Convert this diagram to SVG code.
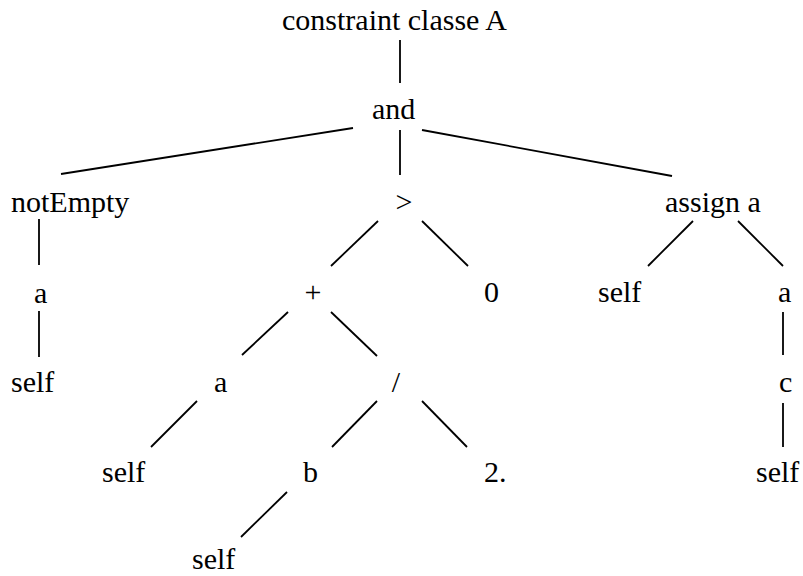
<svg xmlns="http://www.w3.org/2000/svg" width="803" height="576" viewBox="0 0 803 576">
<style>
text{font-family:"Liberation Serif","Times New Roman",serif;font-size:30px;fill:#000}
.e line{stroke:#000;stroke-width:1.8;fill:none}
</style>
<rect width="803" height="576" fill="#fff"/>
<g class="e" id="connectors">
<line x1="400" y1="40" x2="400" y2="83"/>
<line x1="353" y1="128" x2="61" y2="174"/>
<line x1="400" y1="130" x2="400" y2="175"/>
<line x1="422" y1="130" x2="672" y2="176"/>
<line x1="39" y1="219" x2="39" y2="265"/>
<line x1="39" y1="311" x2="39" y2="357"/>
<line x1="378" y1="221" x2="331" y2="266"/>
<line x1="422" y1="221" x2="468" y2="266"/>
<line x1="693" y1="221" x2="648" y2="266"/>
<line x1="738" y1="221" x2="783" y2="266"/>
<line x1="288" y1="312" x2="242" y2="355"/>
<line x1="331" y1="312" x2="377" y2="356"/>
<line x1="783" y1="312" x2="783" y2="355"/>
<line x1="197" y1="401" x2="151" y2="447"/>
<line x1="377" y1="401" x2="332" y2="447"/>
<line x1="422" y1="401" x2="467" y2="447"/>
<line x1="783" y1="403" x2="783" y2="447"/>
<line x1="287" y1="492" x2="241" y2="537"/>
</g>
<g id="n-root"><text x="282" y="30">constraint classe A</text></g>
<g id="n-and"><text x="372" y="119">and</text></g>
<g id="n-notEmpty"><text x="11" y="212">notEmpty</text></g>
<g id="n-gt"><text x="404" y="212" text-anchor="middle">&gt;</text></g>
<g id="n-assign"><text x="665" y="212">assign a</text></g>
<g id="n-a1"><text x="34" y="303">a</text></g>
<g id="n-self1"><text x="11" y="392">self</text></g>
<g id="n-plus"><text x="313" y="302" text-anchor="middle">+</text></g>
<g id="n-zero"><text x="484" y="302">0</text></g>
<g id="n-self2"><text x="598" y="302">self</text></g>
<g id="n-a2"><text x="778" y="302">a</text></g>
<g id="n-a3"><text x="214" y="392">a</text></g>
<g id="n-div"><text x="396" y="392" text-anchor="middle">/</text></g>
<g id="n-c"><text x="779" y="392">c</text></g>
<g id="n-self3"><text x="102" y="482">self</text></g>
<g id="n-b"><text x="303" y="482">b</text></g>
<g id="n-two"><text x="484" y="482">2.</text></g>
<g id="n-self4"><text x="756" y="482">self</text></g>
<g id="n-self5"><text x="192" y="569">self</text></g>
</svg>
